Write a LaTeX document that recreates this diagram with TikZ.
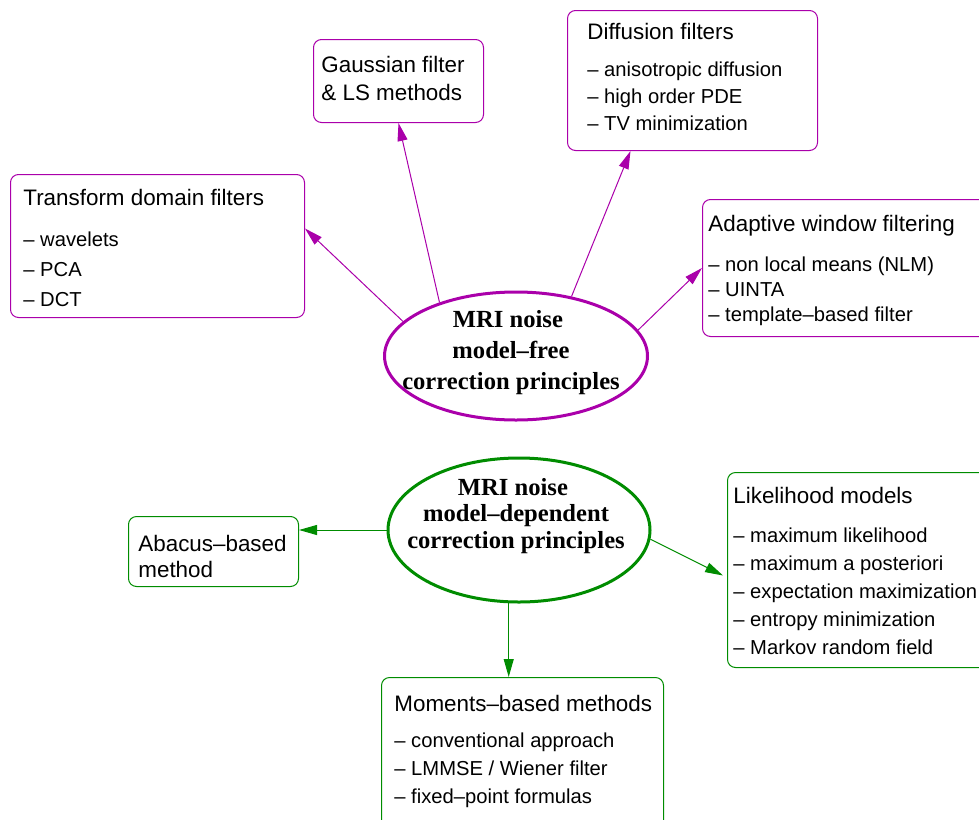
\documentclass[tikz,border=0pt]{standalone}
\usepackage{fontspec}
\setmainfont{Liberation Sans}
\newfontfamily\hubfont{Liberation Serif}
\usetikzlibrary{arrows.meta,shapes.geometric}

\definecolor{freecol}{RGB}{170,0,170}
\definecolor{depcol}{RGB}{0,140,0}

% heading line of a box, set a little larger than its items
\newcommand\boxhead[1]{{\fontsize{11.2}{14}\selectfont #1}}

\tikzset{
  box/.style={draw, rounded corners=4pt, line width=0.5pt, inner sep=0pt,
    anchor=north west},
  % text blocks are placed by the baseline of their last line
  boxtext/.style={anchor=base west, align=left, inner sep=0pt,
    font=\fontsize{10.1}{#1}\selectfont},
  plaintext/.style={anchor=base west, align=left, inner sep=0pt,
    font=\fontsize{11.2}{#1}\selectfont},
  hub/.style={draw, ellipse, line width=1.5pt, inner sep=0pt},
  hubtext/.style={anchor=base, align=center, inner sep=0pt,
    font=\hubfont\bfseries\fontsize{12.3}{#1}\selectfont},
  link/.style={line width=0.5pt, -{Triangle[length=9pt,width=5pt]}}
}

\begin{document}
\begin{tikzpicture}[x=0.5pt,y=-0.5pt]
\useasboundingbox (0,0) rectangle (979,819);
\clip (0,0) rectangle (979,819);

% ---- model-free branch ----
\node[hub, draw=freecol, minimum width=131.5pt, minimum height=64pt] (free) at (516,356) {};
\node[hubtext=15.5pt] (freetext) at (511,389)
  {MRI noise\hspace*{0.25em}\\model–free\\correction principles};

\node[box, draw=freecol, minimum width=147pt, minimum height=71.5pt] (transform) at (10,174) {};
\node[boxtext=15pt] (transformtext) at (23,306)
  {\boxhead{Transform domain filters}\\[5.5pt]– wavelets\\– PCA\\– DCT};

\node[box, draw=freecol, minimum width=85pt, minimum height=41.5pt] (gauss) at (313,39) {};
\node[plaintext=14pt] (gausstext) at (321,100)
  {Gaussian filter\\\& LS methods};

\node[box, draw=freecol, minimum width=125pt, minimum height=70pt] (diffusion) at (567,10) {};
\node[boxtext=13.5pt] (diffusiontext) at (587,130)
  {\boxhead{Diffusion filters}\\[5pt]– anisotropic diffusion\\– high order PDE\\– TV minimization};

\node[box, draw=freecol, minimum width=150pt, minimum height=68.5pt] (adaptive) at (702,199) {};
\node[boxtext=12.5pt] (adaptivetext) at (708,321)
  {\boxhead{Adaptive window filtering}\\[7.5pt]– non local means (NLM)\\– UINTA\\– template–based filter};

\draw[link, freecol] (free.163.7) -- ([yshift=8.75pt]transform.east);
\draw[link, freecol] (free.145) -- (gauss.south);
\draw[link, freecol] (free.47) -- ([xshift=-31pt]diffusion.south);
\draw[link, freecol] (free.12.8) -- (adaptive.west);

% ---- model-dependent branch ----
\node[hub, draw=depcol, minimum width=131pt, minimum height=72pt] (dep) at (519,530) {};
\node[hubtext=13.25pt] (deptext) at (516,548)
  {MRI noise\hspace*{0.25em}\\model–dependent\\correction principles};

\node[box, draw=depcol, minimum width=85pt, minimum height=35pt] (abacus) at (128,516) {};
\node[plaintext=13pt] (abacustext) at (138,577)
  {Abacus–based\\method};

\node[box, draw=depcol, minimum width=150pt, minimum height=97.5pt] (likelihood) at (727,472) {};
\node[boxtext=14pt] (likelihoodtext) at (733,654)
  {\boxhead{Likelihood models}\\[5.5pt]– maximum likelihood\\– maximum a posteriori\\– expectation maximization\\– entropy minimization\\– Markov random field};

\node[box, draw=depcol, minimum width=141pt, minimum height=80pt] (moments) at (381,677) {};
\node[boxtext=14pt] (momentstext) at (394,803)
  {\boxhead{Moments–based methods}\\[4pt]– conventional approach\\– LMMSE / Wiener filter\\– fixed–point formulas};

\draw[link, depcol] (dep.west) -- (dep.west -| abacus.east);
\draw[link, depcol] (dep.-4) -- ([yshift=-2.75pt,xshift=-2pt]likelihood.west);
\draw[link, depcol] (dep.262) -- (dep.262 |- moments.north);
\end{tikzpicture}
\end{document}
